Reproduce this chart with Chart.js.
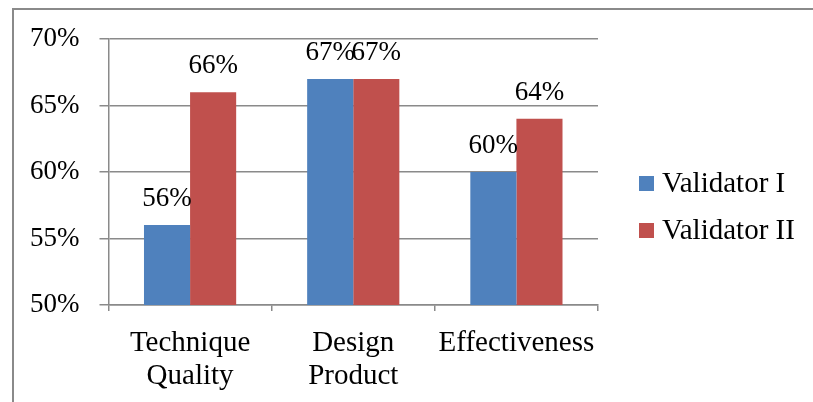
<!DOCTYPE html>
<html>
<head>
<meta charset="utf-8">
<script src="https://cdn.jsdelivr.net/npm/chart.js@4.4.0/dist/chart.umd.min.js"></script>
<style>
  html, body { margin: 0; padding: 0; background: #fff; }
  #wrap { width: 813px; height: 402px; }
</style>
</head>
<body>
<div id="wrap"><canvas id="validChart" width="813" height="402"></canvas></div>
<script>
// Validator scores per aspect (percent)
const categories = [['Technique', 'Quality'], ['Design', 'Product'], 'Effectiveness'];
const validatorI = [56, 67, 60];
const validatorII = [66, 67, 64];
const seriesNames = ['Validator I', 'Validator II'];
const seriesColors = ['#4F81BD', '#C0504D'];
const yTicks = [50, 55, 60, 65, 70];

const serif = 'Liberation Serif, Times New Roman, serif';
const gridGray = '#8a8a8a';

// outer frame (only top and left edges fall inside the canvas)
const framePlugin = {
    id: 'frame',
    afterDraw(chart) {
        const ctx = chart.ctx;
        ctx.save();
        ctx.strokeStyle = '#8a8a8a';
        ctx.lineWidth = 2;
        ctx.beginPath();
        ctx.moveTo(13, chart.height);
        ctx.lineTo(13, 9);
        ctx.lineTo(chart.width, 9);
        ctx.stroke();
        ctx.restore();
    }
};

// value labels above every bar
const valueLabels = {
    id: 'valueLabels',
    afterDatasetsDraw(chart) {
        const ctx = chart.ctx;
        ctx.save();
        ctx.font = '27px ' + serif;
        ctx.fillStyle = '#000';
        ctx.textAlign = 'center';
        ctx.textBaseline = 'middle';
        chart.data.datasets.forEach((ds, i) => {
            chart.getDatasetMeta(i).data.forEach((bar, j) => {
                ctx.fillText(ds.data[j] + '%', bar.x, bar.y - 26);
            });
        });
        ctx.restore();
    }
};

// legend on the right side
const sideLegend = {
    id: 'sideLegend',
    afterDraw(chart) {
        const ctx = chart.ctx;
        ctx.save();
        ctx.font = '29px ' + serif;
        ctx.textBaseline = 'middle';
        chart.data.datasets.forEach((ds, i) => {
            const y = 184 + i * 47;
            ctx.fillStyle = ds.backgroundColor;
            ctx.fillRect(639, y - 8, 15, 15);
            ctx.fillStyle = '#000';
            ctx.fillText(ds.label, 662, y);
        });
        ctx.restore();
    }
};

new Chart(document.getElementById('validChart'), {
    type: 'bar',
    data: {
        labels: categories,
        datasets: [
            { label: seriesNames[0], data: validatorI, backgroundColor: seriesColors[0] },
            { label: seriesNames[1], data: validatorII, backgroundColor: seriesColors[1] }
        ]
    },
    options: {
        responsive: false,
        animation: false,
        categoryPercentage: 0.565,
        barPercentage: 1,
        layout: { padding: { left: 10, top: 39, right: 215, bottom: -7 } },
        plugins: {
            legend: { display: false },
            tooltip: { enabled: false }
        },
        scales: {
            x: {
                offset: true,
                grid: { offset: true, drawOnChartArea: false, tickLength: 6, color: gridGray, lineWidth: 1.5 },
                border: { display: true, color: gridGray, width: 1.5 },
                ticks: {
                    color: '#000',
                    padding: 16,
                    maxRotation: 0,
                    font: { family: serif, size: 29, lineHeight: 1.14 }
                }
            },
            y: {
                min: 50,
                max: 70,
                afterBuildTicks(axis) {
                    axis.ticks = yTicks.map(v => ({ value: v }));
                },
                grid: { color: gridGray, lineWidth: 1.5, tickLength: 9 },
                border: { display: true, color: gridGray, width: 1.5 },
                ticks: {
                    color: '#000',
                    padding: 20,
                    font: { family: serif, size: 27 },
                    callback: v => v + '%'
                }
            }
        }
    },
    plugins: [framePlugin, valueLabels, sideLegend]
});
</script>
</body>
</html>
